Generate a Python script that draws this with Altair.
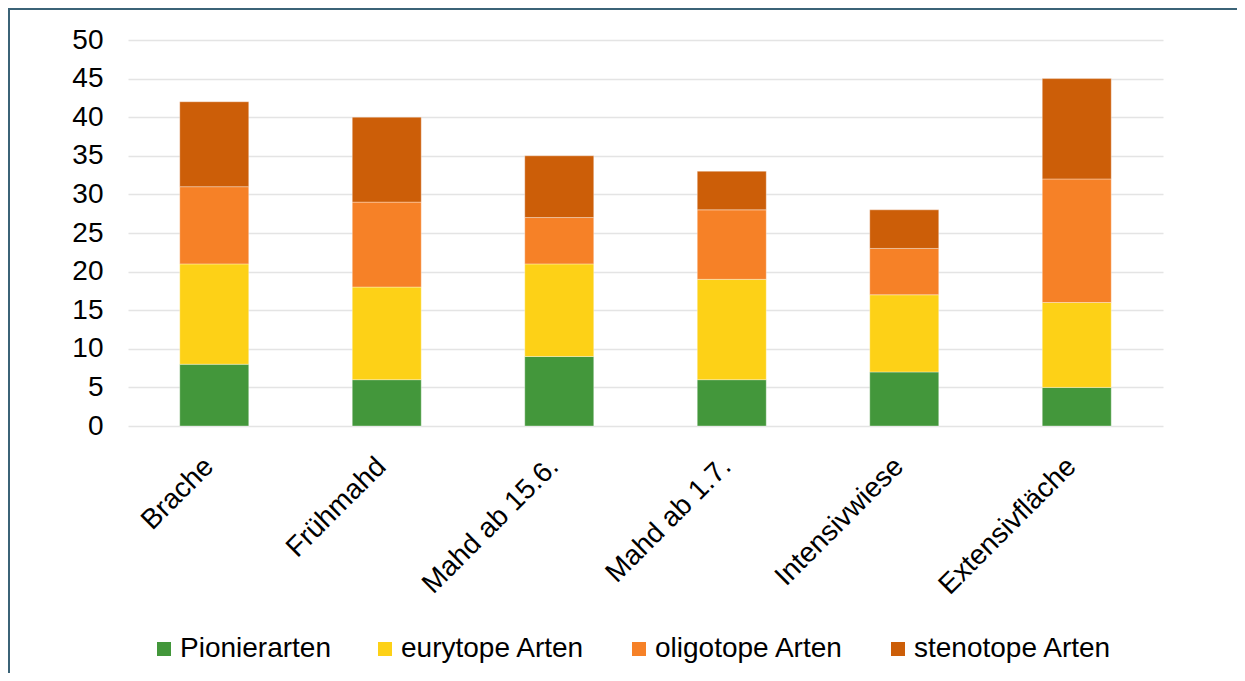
import altair as alt
import pandas as pd

categories = ["Brache", "Frühmahd", "Mahd ab 15.6.", "Mahd ab 1.7.", "Intensivwiese", "Extensivfläche"]
series = ["Pionierarten", "eurytope Arten", "oligotope Arten", "stenotope Arten"]
pionierarten = [8, 6, 9, 6, 7, 5]
eurytope = [13, 12, 12, 13, 10, 11]
oligotope = [10, 11, 6, 9, 6, 16]
stenotope = [11, 11, 8, 5, 5, 13]
colors = ["#43973b", "#fdd117", "#f68127", "#cc5e08"]
y_ticks = list(range(0, 51, 5))

rows = []
for si, (name, vals) in enumerate(zip(series, [pionierarten, eurytope, oligotope, stenotope])):
    for c, v in zip(categories, vals):
        rows.append({"Kategorie": c, "Gruppe": name, "Wert": v, "ord": si})
df = pd.DataFrame(rows)

FONT = "Liberation Sans"
FS = 28
W, H = 1035, 386

bars = alt.Chart(df).mark_bar(stroke="#ffffff", strokeOpacity=0.35, strokeWidth=1).encode(
    x=alt.X("Kategorie:N", sort=categories, title=None,
            scale=alt.Scale(paddingInner=0.6, paddingOuter=0.3),
            axis=alt.Axis(labelAngle=-45, labelAlign="right", labelBaseline="middle",
                          labelPadding=36, labelOffset=-5, labelFontSize=FS, labelFont=FONT,
                          labelColor="#000000", domain=False, ticks=False, grid=False,
                          labelLimit=400)),
    y=alt.Y("Wert:Q", stack="zero", title=None,
            scale=alt.Scale(domain=[0, 50], nice=False),
            axis=alt.Axis(values=y_ticks, labelPadding=25, labelFontSize=FS, labelFont=FONT,
                          labelColor="#000000", domain=False, ticks=False,
                          grid=True, gridColor="#e4e4e4", gridWidth=1.5)),
    color=alt.Color("Gruppe:N", sort=series,
                    scale=alt.Scale(domain=series, range=colors),
                    legend=alt.Legend(title=None, orient="none", direction="horizontal",
                                      legendX=22, legendY=595, symbolType="square",
                                      symbolSize=196, symbolStrokeWidth=0, labelFontSize=FS,
                                      labelFont=FONT, labelColor="#000000", labelOffset=2,
                                      columnPadding=40, padding=0, labelLimit=400)),
    order=alt.Order("ord:Q", sort="ascending"),
)

frame = alt.Data(values=[{}])
left_border = alt.Chart(frame).mark_rule(color="#3b6377", strokeWidth=2).encode(
    x=alt.value(-119), y=alt.value(-31), y2=alt.value(633))
top_border = alt.Chart(frame).mark_rule(color="#3b6377", strokeWidth=2).encode(
    x=alt.value(-120), x2=alt.value(1109), y=alt.value(-31))

chart = alt.layer(bars, left_border, top_border).properties(
    width=W, height=H,
    background="#ffffff",
    autosize=alt.AutoSizeParams(type="none"),
    padding={"left": 120, "top": 32, "right": 74, "bottom": 247},
).configure_view(stroke=None)

chart.save("out.html", embed_options={"renderer": "svg", "actions": False})
